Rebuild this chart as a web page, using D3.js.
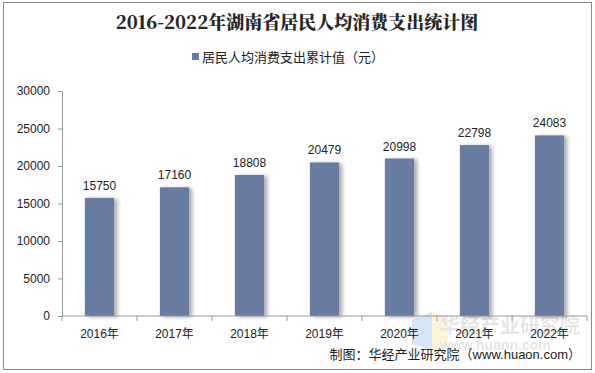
<!DOCTYPE html>
<html>
<head>
<meta charset="utf-8">
<script src="https://cdn.jsdelivr.net/npm/d3@7"></script>
<style>
	body { margin: 0; background: #fff; }
	svg { display: block; font-family: "Liberation Sans", Arial, "Noto Sans CJK SC", sans-serif; }
</style>
</head>
<body>
<div id="chartDiv"></div>
<script>
;(function() {

	var years = ["2016年", "2017年", "2018年", "2019年", "2020年", "2021年", "2022年"];
	var values = [15750, 17160, 18808, 20479, 20998, 22798, 24083];
	var yTicks = [0, 5000, 10000, 15000, 20000, 25000, 30000];
	var title = "2016-2022年湖南省居民人均消费支出统计图";
	var legendLabel = "居民人均消费支出累计值（元）";
	var sourceLabel = "制图：华经产业研究院（www.huaon.com）";

	var width = 595;
	var height = 373;
	var margin = { top: 91, right: 8, bottom: 57, left: 62 };
	var barColor = "#687ba1";

	var chartWidth = width - margin.left - margin.right;
	var chartHeight = height - margin.top - margin.bottom;

	var svg = d3.select("#chartDiv").append("svg")
		.attr("width", width)
		.attr("height", height);

	// soft shadow on the right of the bars
	var defs = svg.append("defs");
	var shadow = defs.append("filter").attr("id", "shadow")
		.attr("x", "-20%").attr("y", "-5%").attr("width", "160%").attr("height", "110%");
	shadow.append("feGaussianBlur").attr("in", "SourceAlpha").attr("stdDeviation", 2);
	shadow.append("feOffset").attr("dx", 3).attr("dy", 1).attr("result", "blur");
	shadow.append("feComponentTransfer").append("feFuncA").attr("type", "linear").attr("slope", 0.35);
	var merge = shadow.append("feMerge");
	merge.append("feMergeNode");
	merge.append("feMergeNode").attr("in", "SourceGraphic");

	// outer frame
	svg.append("rect")
		.attr("x", 3.5).attr("y", 2.5)
		.attr("width", 588).attr("height", 367)
		.attr("fill", "none")
		.attr("stroke", "#8c8c8c");

	// title
	svg.append("text")
		.attr("x", 297).attr("y", 29)
		.attr("text-anchor", "middle")
		.style("font-family", "'Noto Serif CJK SC', 'Noto Sans CJK SC', serif")
		.style("font-weight", "900")
		.style("font-size", "18px")
		.attr("fill", "#262626")
		.text(title);

	// legend
	svg.append("rect")
		.attr("x", 192).attr("y", 53)
		.attr("width", 7).attr("height", 7)
		.attr("fill", barColor);
	svg.append("text")
		.attr("x", 202).attr("y", 62)
		.style("font-family", "'Noto Sans CJK SC', sans-serif")
		.style("font-size", "13px")
		.attr("fill", "#222")
		.text(legendLabel);

	var plot = svg.append("g")
		.attr("transform", "translate(" + margin.left + "," + margin.top + ")");

	var xScale = d3.scaleBand()
		.domain(years)
		.range([0, chartWidth])
		.paddingInner(0.61)
		.paddingOuter(0.305);

	var yScale = d3.scaleLinear()
		.domain([0, 30000])
		.range([chartHeight, 0]);

	// bars
	plot.selectAll(".bar")
		.data(values)
		.enter().append("rect")
		.attr("class", "bar")
		.attr("x", function(d, i) { return xScale(years[i]); })
		.attr("y", function(d) { return yScale(d); })
		.attr("width", xScale.bandwidth())
		.attr("height", function(d) { return chartHeight - yScale(d); })
		.attr("fill", barColor)
		.attr("filter", "url(#shadow)");

	// value labels
	plot.selectAll(".val")
		.data(values)
		.enter().append("text")
		.attr("class", "val")
		.attr("x", function(d, i) { return xScale(years[i]) + xScale.bandwidth() / 2; })
		.attr("y", function(d) { return yScale(d) - 8; })
		.attr("text-anchor", "middle")
		.style("font-size", "12px")
		.attr("fill", "#222")
		.text(function(d) { return d; });

	// y axis
	var yAxis = d3.axisLeft(yScale).tickValues(yTicks).tickFormat(d3.format("d"))
		.tickSize(4).tickSizeOuter(0).tickPadding(8);
	var yG = plot.append("g").call(yAxis);
	yG.select(".domain").attr("stroke", "#999");
	yG.selectAll(".tick line").attr("stroke", "#999");
	yG.selectAll(".tick text").style("font-size", "12px").attr("fill", "#222");

	// x axis (ticks between categories)
	var xG = plot.append("g").attr("transform", "translate(0," + chartHeight + ")");
	xG.append("line")
		.attr("x1", 0).attr("x2", chartWidth)
		.attr("stroke", "#999");
	var step = xScale.step();
	var bounds = d3.range(years.length + 1).map(function(i) { return i * step; });
	xG.selectAll(".xt")
		.data(bounds)
		.enter().append("line")
		.attr("x1", function(d) { return d; }).attr("x2", function(d) { return d; })
		.attr("y1", 0).attr("y2", 5)
		.attr("stroke", "#999");
	xG.selectAll(".xl")
		.data(years)
		.enter().append("text")
		.attr("x", function(d) { return xScale(d) + xScale.bandwidth() / 2; })
		.attr("y", 22)
		.attr("text-anchor", "middle")
		.style("font-size", "12px")
		.attr("fill", "#222")
		.text(function(d) { return d; });

	// watermark (sits behind labels, as in the original)
	var wm = svg.insert("g", "g").attr("opacity", 0.3);
	wm.append("path").attr("d", "M412,320 L432,312 L432,350 L412,344 Z").attr("fill", "#7aa9e8");
	wm.append("path").attr("d", "M432,312 L448,318 L448,346 L432,350 Z").attr("fill", "#f5dc7a");
	wm.append("text")
		.attr("x", 440).attr("y", 333)
		.style("font-family", "'Noto Sans CJK SC', sans-serif")
		.style("font-size", "20px").style("font-weight", "bold")
		.attr("fill", "#aaa")
		.text("华经产业研究院");
	wm.append("text")
		.attr("x", 440).attr("y", 350)
		.style("font-size", "14px").style("font-weight", "bold")
		.attr("fill", "#aaa")
		.text("www.huaon.com");

	// source
	svg.append("text")
		.attr("x", 581).attr("y", 359)
		.attr("text-anchor", "end")
		.style("font-family", "'Liberation Sans', 'Noto Sans CJK SC', sans-serif")
		.style("font-size", "13px")
		.attr("fill", "#222")
		.text(sourceLabel);

})();
</script>
</body>
</html>
